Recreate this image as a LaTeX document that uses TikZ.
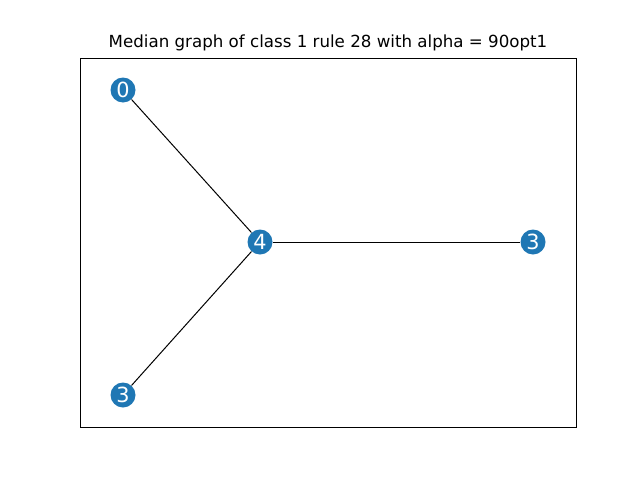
\documentclass[tikz,border=0pt]{standalone}
\usepackage{fontspec}
\setmainfont{DejaVu Sans}
\definecolor{tabblue}{HTML}{1F77B4}
\begin{document}
\begin{tikzpicture}[x=0.72pt,y=-0.72pt,
  vtx/.style={circle,fill=tabblue,minimum size=18pt,inner sep=0pt,text=white,font=\fontsize{15}{17}\selectfont},
  edge/.style={draw=black,line width=0.72pt}]
\useasboundingbox (0,0) rectangle (640,480);
\draw[line width=0.6pt] (80,58) rectangle (576,427);
\node[font=\fontsize{12}{14}\selectfont] (title) at (328,43) {Median graph of class 1 rule 28 with alpha = 90opt1};
\node[vtx] (n0) at (123,90) {0};
\node[vtx] (n4) at (260,242) {4};
\node[vtx] (n3a) at (533,242) {3};
\node[vtx] (n3b) at (123,395) {3};
\draw[edge] (n0) -- (n4);
\draw[edge] (n4) -- (n3a);
\draw[edge] (n4) -- (n3b);
\end{tikzpicture}
\end{document}
